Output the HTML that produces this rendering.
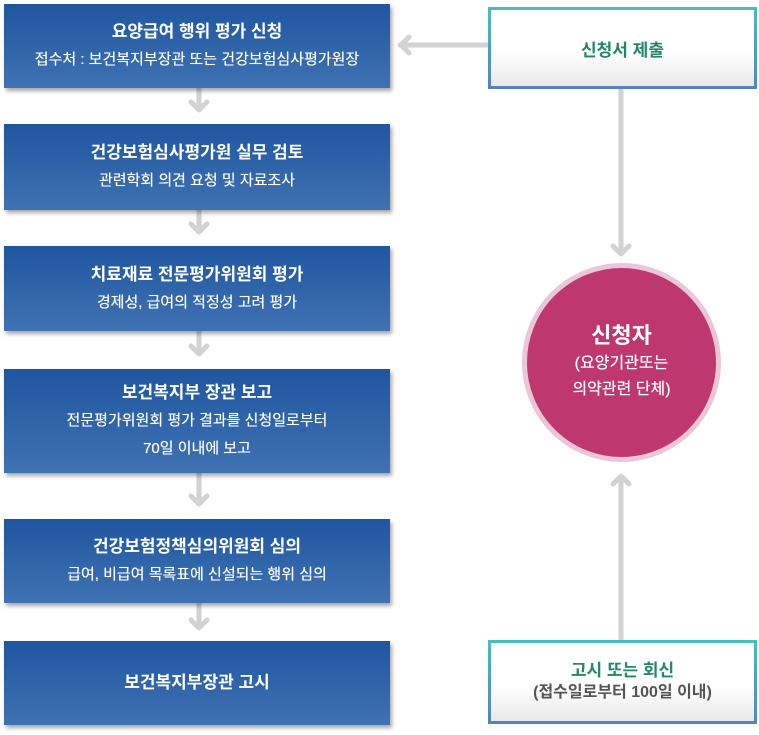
<!DOCTYPE html>
<html><head><meta charset="utf-8"><style>
body{margin:0;width:759px;height:735px;background:#fff;position:relative;overflow:hidden;font-family:"Liberation Sans","Noto Sans CJK KR",sans-serif}
.b{position:absolute;left:4px;width:386px;background:linear-gradient(#1f56a0,#3f72b2);box-shadow:2px 3px 4px rgba(0,0,0,.35);color:#fff;text-align:center;display:flex;flex-direction:column;justify-content:center}
.t{font-size:17px;font-weight:bold;line-height:28px}
.s{font-size:15px;line-height:28px;text-shadow:0 0 .5px #fff}
.r{position:absolute;left:488px;width:263px;border:3px solid;border-image:linear-gradient(#48bdbe,#5683c0) 1;background:linear-gradient(#fff 55%,#e9e9e9);text-align:center;display:flex;flex-direction:column;justify-content:center}
svg{position:absolute;left:0;top:0}
</style></head><body>
<svg width="759" height="735" fill="none" stroke="#d2d2d2" stroke-width="5" stroke-linecap="round" stroke-linejoin="round">
<path d="M199 88V110M191 102l8 8 8-8"/>
<path d="M199 210V232M191 224l8 8 8-8"/>
<path d="M199 331V354M191 346l8 8 8-8"/>
<path d="M199 473V504M191 496l8 8 8-8"/>
<path d="M199 603V628M191 620l8 8 8-8"/>
<path d="M488 45H400M409 37l-8 8 8 8"/>
<path d="M621 89V254M613 246l8 8 8-8"/>
<path d="M621 640V476M613 484l8-8 8 8"/>
</svg>
<div class="b" style="top:4px;height:84px"><div class="t">요양급여 행위 평가 신청</div><div class="s">접수처 : 보건복지부장관 또는 건강보험심사평가원장</div></div>
<div class="b" style="top:124px;height:86px"><div class="t">건강보험심사평가원 실무 검토</div><div class="s">관련학회 의견 요청 및 자료조사</div></div>
<div class="b" style="top:246px;height:85px"><div class="t">치료재료 전문평가위원회 평가</div><div class="s">경제성, 급여의 적정성 고려 평가</div></div>
<div class="b" style="top:369px;height:104px"><div class="t">보건복지부 장관 보고</div><div class="s">전문평가위원회 평가 결과를 신청일로부터</div><div class="s">70일 이내에 보고</div></div>
<div class="b" style="top:519px;height:84px"><div class="t">건강보험정책심의위원회 심의</div><div class="s">급여, 비급여 목록표에 신설되는 행위 심의</div></div>
<div class="b" style="top:641px;height:84px"><div class="t">보건복지부장관 고시</div></div>
<div class="r" style="top:7px;height:76px"><div style="color:#23876a;font-weight:bold;font-size:17px">신청서 제출</div></div>
<div class="r" style="top:640px;height:78px"><div style="color:#23876a;font-weight:bold;font-size:17px;line-height:22px">고시 또는 회신</div><div style="color:#555;font-weight:bold;font-size:16px;line-height:22px">(접수일로부터 100일 이내)</div></div>
<div style="position:absolute;left:522px;top:263px;width:189px;height:189px;border-radius:50%;border:5px solid #ebc5d8;background:#bf376f;color:#fff;text-align:center">
<div style="margin-top:53px;font-size:22px;font-weight:bold;line-height:30px">신청자</div>
<div style="font-size:16px;line-height:26px;text-shadow:0 0 .5px #fff">(요양기관또는<br>의약관련 단체)</div></div>
</body></html>
